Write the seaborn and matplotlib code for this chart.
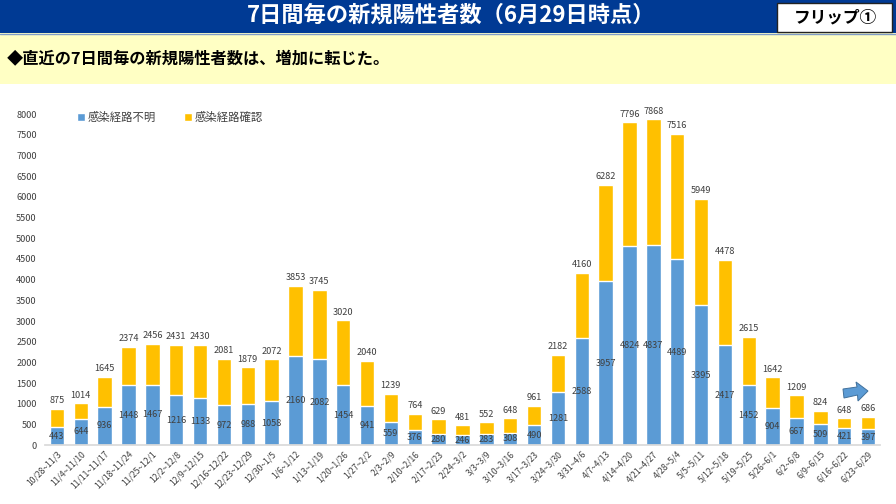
import matplotlib
matplotlib.use("Agg")
import matplotlib.pyplot as plt
from matplotlib.patches import Rectangle, Polygon
import seaborn as sns
import pandas as pd

weeks = ["10/28~11/3","11/4~11/10","11/11~11/17","11/18~11/24","11/25~12/1","12/2~12/8","12/9~12/15",
         "12/16~12/22","12/23~12/29","12/30~1/5","1/6~1/12","1/13~1/19","1/20~1/26","1/27~2/2","2/3~2/9",
         "2/10~2/16","2/17~2/23","2/24~3/2","3/3~3/9","3/10~3/16","3/17~3/23","3/24~3/30","3/31~4/6",
         "4/7~4/13","4/14~4/20","4/21~4/27","4/28~5/4","5/5~5/11","5/12~5/18","5/19~5/25","5/26~6/1",
         "6/2~6/8","6/9~6/15","6/16~6/22","6/23~6/29"]
totals = [875,1014,1645,2374,2456,2431,2430,2081,1879,2072,3853,3745,3020,2040,1239,764,629,481,552,648,961,
          2182,4160,6282,7796,7868,7516,5949,4478,2615,1642,1209,824,648,686]
unknown = [443,644,936,1448,1467,1216,1133,972,988,1058,2160,2082,1454,941,559,376,280,246,283,308,490,
           1281,2588,3957,4824,4837,4489,3395,2417,1452,904,667,509,421,397]
series_unknown = "感染経路不明"
series_known = "感染経路確認"
title = "7日間毎の新規陽性者数（6月29日時点）"
flip = "フリップ①"
headline = "◆直近の7日間毎の新規陽性者数は、増加に転じた。"

sns.set_theme(style="white")
plt.rcParams['font.family'] = ['Noto Sans CJK JP', 'DejaVu Sans']

W, H = 896, 504
BLUE, YELLOW, TXT = "#5B9BD5", "#FFC000", "#404040"
fig = plt.figure(figsize=(W/100, H/100), dpi=100, facecolor="white")

# header layer in pixel coordinates
bg = fig.add_axes([0, 0, 1, 1], zorder=0)
bg.set_xlim(0, W); bg.set_ylim(H, 0); bg.axis("off")
bg.add_patch(Rectangle((0, 0), W, 33, fc="#003A94", ec="none"))
bg.add_patch(Rectangle((0, 33), W, 51, fc="#FFFFC4", ec="none"))
bg.plot([0, W], [33.5, 33.5], color="#7F9CC8", lw=1)
bg.text(451, 15, title, color="white", fontsize=16, fontweight="bold", ha="center", va="center")
bg.add_patch(Rectangle((776.5, 2.5), 115, 29, fc="white", ec="#222222", lw=1))
bg.text(835, 17, flip, color="black", fontsize=12, fontweight="bold", ha="center", va="center")
bg.text(7, 59, headline, color="black", fontsize=11.7, fontweight="bold", ha="left", va="center")

# chart
ax = fig.add_axes([45/W, 1-445.3/H, (880-45)/W, (445.3-114)/H], zorder=1)
ax.patch.set_alpha(0)
df = pd.DataFrame({"week": weeks, "total": totals, "unknown": unknown})
sns.barplot(data=df, x="week", y="total", color=YELLOW, saturation=1, width=0.6, ax=ax, label=series_known)
sns.barplot(data=df, x="week", y="unknown", color=BLUE, saturation=1, width=0.6, ax=ax, label=series_unknown)
ax.set_xlim(-0.5, len(weeks)-0.5)
ax.set_ylim(0, 8000)
ax.set_yticks(range(0, 8001, 500))
ax.set_xlabel(""); ax.set_ylabel("")
ax.tick_params(axis="y", length=0, labelsize=6.6, labelcolor=TXT, pad=6)
ax.tick_params(axis="x", length=0, labelsize=6.2, labelcolor=TXT, pad=3)
for lb in ax.get_xticklabels():
    lb.set_rotation(45); lb.set_ha("right"); lb.set_rotation_mode("anchor")
for s in ["top", "right", "left"]:
    ax.spines[s].set_visible(False)
ax.spines["bottom"].set_color("#D9D9D9")

for i, (t, u) in enumerate(zip(totals, unknown)):
    ax.text(i, t + 90, str(t), ha="center", va="bottom", fontsize=6.6, color=TXT)
    ax.text(i, u / 2, str(u), ha="center", va="center", fontsize=6.6, color=TXT)

handles, labels = ax.get_legend_handles_labels()
order = [labels.index(series_unknown), labels.index(series_known)]
ax.legend([handles[i] for i in order], [labels[i] for i in order], loc="upper left",
          bbox_to_anchor=(0.032, 1.024), ncol=2, frameon=False, fontsize=8.2, labelcolor=TXT,
          handlelength=0.65, handleheight=0.65, handletextpad=0.25, columnspacing=2.5, borderpad=0)

# rising arrow annotation
bg2 = fig.add_axes([0, 0, 1, 1], zorder=2)
bg2.set_xlim(0, W); bg2.set_ylim(H, 0); bg2.axis("off")
bg2.add_patch(Polygon([(843, 389), (857, 387), (856, 382), (868, 391), (858, 401), (857.5, 395), (844, 398)],
                      closed=True, fc=BLUE, ec="#41719C", lw=0.7))
fig.savefig("out.png", dpi=100)
